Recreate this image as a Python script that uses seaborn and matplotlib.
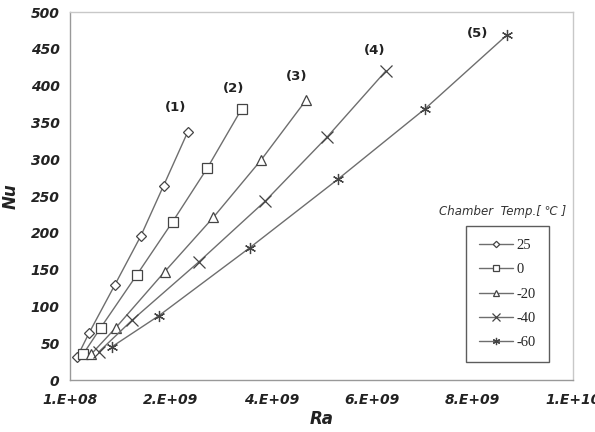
import matplotlib
matplotlib.use("Agg")
import matplotlib.pyplot as plt
import seaborn as sns
import pandas as pd
from matplotlib.ticker import FixedLocator, MultipleLocator

# ---- data ----
temps = ["25", "0", "-20", "-40", "-60"]
ra_25 = [2.4e8, 4.8e8, 9.9e8, 1.51e9, 1.96e9, 2.44e9]
nu_25 = [31, 64, 129, 196, 264, 337]
ra_0 = [3.6e8, 7.1e8, 1.43e9, 2.14e9, 2.83e9, 3.51e9]
nu_0 = [35, 71, 143, 215, 288, 368]
ra_m20 = [5.2e8, 1.01e9, 1.98e9, 2.95e9, 3.90e9, 4.79e9]
nu_m20 = [35, 71, 147, 221, 299, 380]
ra_m40 = [6.7e8, 1.33e9, 2.67e9, 3.98e9, 5.21e9, 6.38e9]
nu_m40 = [38, 81, 161, 243, 330, 420]
ra_m60 = [9.3e8, 1.86e9, 3.68e9, 5.43e9, 7.15e9, 8.79e9]
nu_m60 = [45, 87, 180, 273, 368, 469]

curve_labels = ["(1)", "(2)", "(3)", "(4)", "(5)"]
label_ra = [2.2e9, 3.35e9, 4.6e9, 6.15e9, 8.2e9]
label_nu = [370, 396, 412, 448, 471]

xtick_vals = [1e8, 2.1e9, 4.1e9, 6.1e9, 8.1e9, 1.01e10]
xtick_labels = ["1.E+08", "2.E+09", "4.E+09", "6.E+09", "8.E+09", "1.E+10"]

ras = [ra_25, ra_0, ra_m20, ra_m40, ra_m60]
nus = [nu_25, nu_0, nu_m20, nu_m40, nu_m60]
rows = []
for t, r, n in zip(temps, ras, nus):
    for a, b in zip(r, n):
        rows.append({"Ra": a, "Nu": b, "Temp": t})
df = pd.DataFrame(rows)

sns.set_style("white")
plt.rcParams["font.family"] = ["DejaVu Sans"]

fig = plt.figure(figsize=(5.95, 4.32), dpi=100)
ax = fig.add_axes([70 / 595, 52 / 432, 503 / 595, 368 / 432])

sns.lineplot(data=df, x="Ra", y="Nu", hue="Temp",
             hue_order=temps,
             palette=["#6e6e6e"] * 5, marker="o",
             sort=False, legend=False, ax=ax, linewidth=1.0)

markers = {"25": "D", "0": "s", "-20": "^", "-40": "x", "-60": (6, 2, 0)}
sizes = {"25": 5.0, "0": 6.8, "-20": 6.8, "-40": 8, "-60": 8}
lines = ax.get_lines()
for ln, t in zip(lines, temps):
    ln.set_marker(markers[t])
    ln.set_markerfacecolor("white")
    ln.set_markeredgecolor("#444444")
    ln.set_markeredgewidth(0.9)
    ln.set_markersize(sizes[t])

for lab, xr, yn in zip(curve_labels, label_ra, label_nu):
    ax.text(xr, yn, lab, ha="center", va="center", fontsize=9.5,
            fontweight="bold", color="#222222")

ax.set_xlim(1e8, 1.01e10)
ax.set_ylim(0, 500)
ax.xaxis.set_major_locator(FixedLocator(xtick_vals))
ax.set_xticklabels(xtick_labels)
ax.xaxis.set_minor_locator(MultipleLocator(4e8))
ax.yaxis.set_major_locator(MultipleLocator(50))
ax.yaxis.set_minor_locator(MultipleLocator(10))

ax.tick_params(axis="both", which="major", direction="inout", length=7,
               width=0.8, color="#888888", labelsize=10, labelcolor="#222222")
ax.tick_params(axis="both", which="minor", direction="in", length=3,
               width=0.6, color="#888888")
ax.tick_params(axis="x", which="major", pad=6)
ax.tick_params(axis="y", which="major", pad=4)
for lbl in ax.get_xticklabels() + ax.get_yticklabels():
    lbl.set_fontweight("bold")
    lbl.set_fontstyle("italic")

ax.set_xlabel("Ra", fontsize=12, fontweight="bold", fontstyle="italic",
              color="#222222", labelpad=2)
ax.set_ylabel("Nu", fontsize=12, fontweight="bold", fontstyle="italic",
              color="#222222", labelpad=8)

for s in ["left", "bottom"]:
    ax.spines[s].set_color("#999999")
    ax.spines[s].set_linewidth(1.0)
for s in ["top", "right"]:
    ax.spines[s].set_color("#c8c8c8")
    ax.spines[s].set_linewidth(1.0)
    ax.spines[s].set_visible(True)

leg = ax.legend(lines, temps, loc="upper left",
                bbox_to_anchor=((466 - 70) / 503, (380 - 226) / 368),
                frameon=True, fancybox=False, edgecolor="#333333",
                prop={"family": "Liberation Serif", "size": 10.5},
                handlelength=2.3, labelspacing=0.75, borderpad=0.9,
                handletextpad=0.25, markerscale=0.65, borderaxespad=0)
leg.get_frame().set_linewidth(1.0)

ax.text((503 - 70) / 503, (380 - 211) / 368, "Chamber  Temp.[ \u2103 ]",
        transform=ax.transAxes, ha="center", va="center", fontsize=8.5,
        fontstyle="italic", color="#333333")

fig.savefig("out.png", dpi=100)
